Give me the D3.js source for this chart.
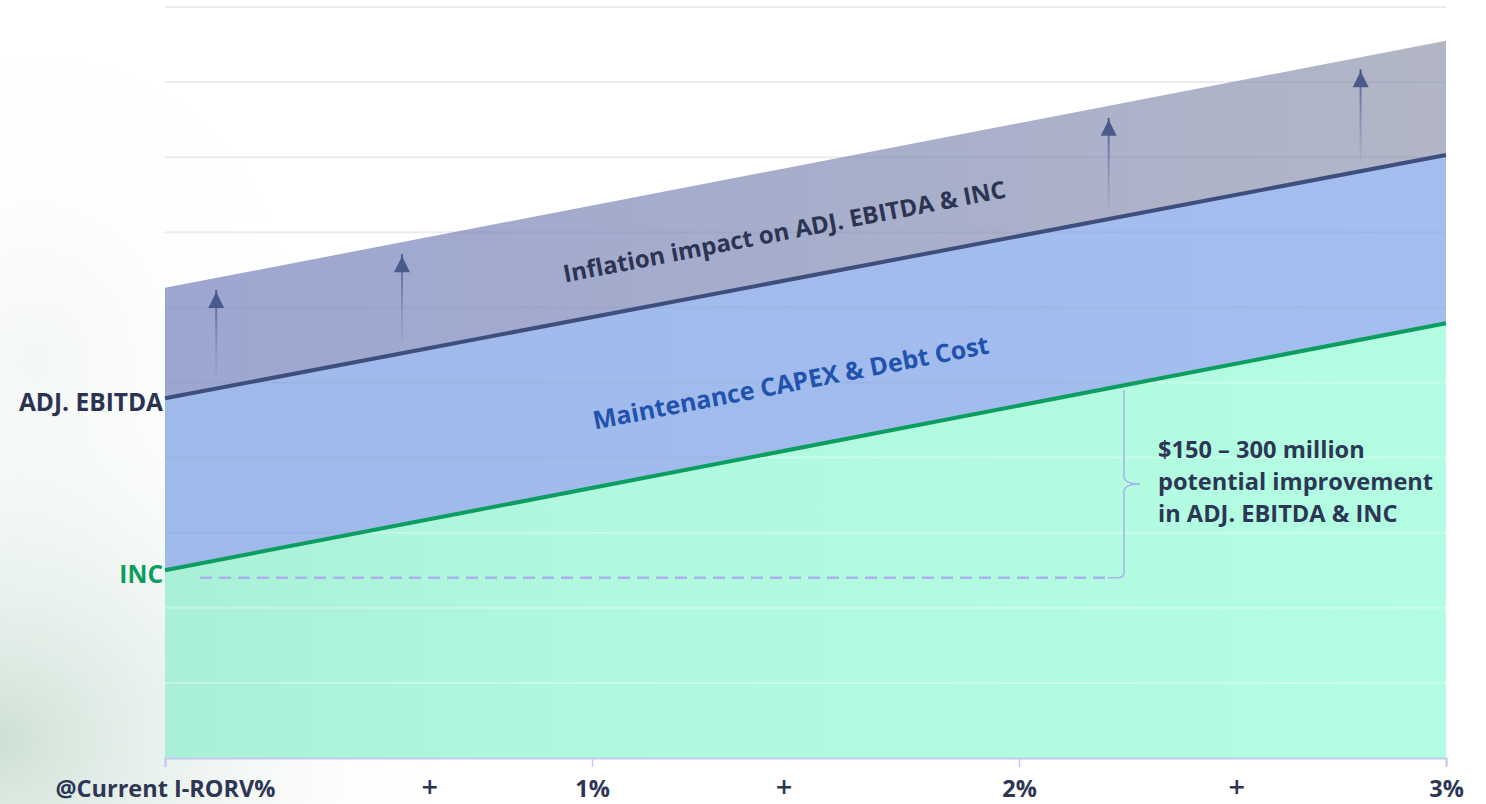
<!DOCTYPE html>
<html>
<head>
<meta charset="utf-8">
<script src="https://cdn.jsdelivr.net/npm/d3@7/dist/d3.min.js"></script>
<style>
  html, body { margin: 0; padding: 0; background: #ffffff; }
  svg { display: block; font-family: "Open Sans", "Noto Sans", sans-serif; }
</style>
</head>
<body>
<svg id="chart" width="1486" height="804"></svg>
<script>
// ---- data -------------------------------------------------------------
// x positions of the series end points (I-RORV % increase)
const seriesX = [0, 3];
// upper edge of the inflation band
const inflationTop = [6.26, 9.55];
// ADJ. EBITDA line
const adjEbitda = [4.79, 8.03];
// INC line
const inc = [2.50, 5.79];

// x axis ticks and labels
const tickValues = [0, 1, 2, 3];
const tickLabels = ["@Current I-RORV%", "1%", "2%", "3%"];
const plusValues = [0.62, 1.45, 2.51];
const plusLabels = ["+", "+", "+"];

// upward arrows inside the inflation band
const arrowX = [0.12, 0.555, 2.21, 2.8];

// current INC level (dashed reference) and its extent
const currentInc = 2.40;
const currentIncRange = [0.082, 2.208];
const braceX = 2.246;

const noteLines = ["$150 \u2013 300 million", "potential improvement", "in ADJ. EBITDA & INC"];

// ---- layout -----------------------------------------------------------
const svg = d3.select("#chart");
const W = 1486, H = 804;
const x = d3.scaleLinear().domain([0, 3]).range([165, 1446]);
const y = d3.scaleLinear().domain([0, 10]).range([758, 7]);

const lineAt = s => d3.scaleLinear().domain(seriesX).range(s);
const topF = lineAt(inflationTop), ebF = lineAt(adjEbitda), incF = lineAt(inc);

const defs = svg.append("defs");

// soft mist on the left side of the page
const haze = defs.append("radialGradient").attr("id", "haze")
  .attr("cx", 0.0).attr("cy", 0.92).attr("r", 0.5);
haze.append("stop").attr("offset", 0).attr("stop-color", "#9cc2ad").attr("stop-opacity", 0.5);
haze.append("stop").attr("offset", 0.5).attr("stop-color", "#c6ddd0").attr("stop-opacity", 0.25);
haze.append("stop").attr("offset", 1).attr("stop-color", "#ffffff").attr("stop-opacity", 0);
const haze2 = defs.append("radialGradient").attr("id", "haze2")
  .attr("cx", 0.05).attr("cy", 0.45).attr("r", 0.4);
haze2.append("stop").attr("offset", 0).attr("stop-color", "#dde9e2").attr("stop-opacity", 0.35);
haze2.append("stop").attr("offset", 1).attr("stop-color", "#ffffff").attr("stop-opacity", 0);

svg.append("rect").attr("width", W).attr("height", H).attr("fill", "#ffffff");
svg.append("rect").attr("width", 700).attr("height", H).attr("fill", "url(#haze2)");
svg.append("rect").attr("width", 900).attr("height", H).attr("fill", "url(#haze)");

// band gradients
const infGrad = defs.append("linearGradient").attr("id", "infGrad")
  .attr("gradientUnits", "userSpaceOnUse")
  .attr("x1", x(0)).attr("x2", x(3)).attr("y1", 0).attr("y2", 0);
infGrad.append("stop").attr("offset", 0).attr("stop-color", "#9ca6d1");
infGrad.append("stop").attr("offset", 1).attr("stop-color", "#b2b6c6");

const incGrad = defs.append("linearGradient").attr("id", "incGrad")
  .attr("gradientUnits", "userSpaceOnUse")
  .attr("x1", x(0)).attr("x2", x(3)).attr("y1", 0).attr("y2", 0);
incGrad.append("stop").attr("offset", 0).attr("stop-color", "#a9f0d7");
incGrad.append("stop").attr("offset", 0.35).attr("stop-color", "#b0f9df");
incGrad.append("stop").attr("offset", 1).attr("stop-color", "#b3fde2");

const mcGrad = defs.append("linearGradient").attr("id", "mcGrad")
  .attr("gradientUnits", "userSpaceOnUse")
  .attr("x1", x(0)).attr("x2", x(3)).attr("y1", 0).attr("y2", 0);
mcGrad.append("stop").attr("offset", 0).attr("stop-color", "#9fbaea");
mcGrad.append("stop").attr("offset", 1).attr("stop-color", "#a4bfef");

const shaftGrad = defs.append("linearGradient").attr("id", "shaftGrad")
  .attr("x1", 0).attr("x2", 0).attr("y1", 0).attr("y2", 1);
shaftGrad.append("stop").attr("offset", 0).attr("stop-color", "#4a5a8c").attr("stop-opacity", 1);
shaftGrad.append("stop").attr("offset", 1).attr("stop-color", "#7d8dc4").attr("stop-opacity", 0.2);

// background gridlines
const gridVals = y.ticks(10).filter(d => d > 0);
svg.append("g").selectAll("line").data(gridVals).join("line")
  .attr("x1", x(0)).attr("x2", x(3))
  .attr("y1", d => y(d)).attr("y2", d => y(d))
  .attr("stroke", "#ececee").attr("stroke-width", 2);

// areas
const pts = s => seriesX.map((v, i) => [v, s[i]]);
const band = (upper, lower) => d3.area()
  .x(d => x(d[0]))
  .y0((d, i) => y(lower ? lower[i] : 0))
  .y1((d, i) => y(upper[i]));

svg.append("path").datum(pts(inflationTop))
  .attr("d", band(inflationTop, adjEbitda)).attr("fill", "url(#infGrad)");
svg.append("path").datum(pts(adjEbitda))
  .attr("d", band(adjEbitda, inc)).attr("fill", "url(#mcGrad)");
svg.append("path").datum(pts(inc))
  .attr("d", band(inc, null)).attr("fill", "url(#incGrad)");

// gridlines seen through the bands
const clipUpper = defs.append("clipPath").attr("id", "clipUpper");
clipUpper.append("path").datum(pts(inflationTop)).attr("d", band(inflationTop, inc));
const clipLower = defs.append("clipPath").attr("id", "clipLower");
clipLower.append("path").datum(pts(inc)).attr("d", band(inc, null));

svg.append("g").attr("clip-path", "url(#clipUpper)")
  .selectAll("line").data(gridVals).join("line")
  .attr("x1", x(0)).attr("x2", x(3))
  .attr("y1", d => y(d)).attr("y2", d => y(d))
  .attr("stroke", "#5a6488").attr("stroke-opacity", 0.07).attr("stroke-width", 2);
svg.append("g").attr("clip-path", "url(#clipLower)")
  .selectAll("line").data(gridVals).join("line")
  .attr("x1", x(0)).attr("x2", x(3))
  .attr("y1", d => y(d)).attr("y2", d => y(d))
  .attr("stroke", "#ffffff").attr("stroke-opacity", 0.3).attr("stroke-width", 2);

// lines
const line = d3.line().x(d => x(d[0])).y(d => y(d[1]));
svg.append("path").datum(pts(adjEbitda)).attr("d", line)
  .attr("fill", "none").attr("stroke", "#3e4f7e").attr("stroke-width", 4);
svg.append("path").datum(pts(inc)).attr("d", line)
  .attr("fill", "none").attr("stroke", "#0c9d60").attr("stroke-width", 4);

// upward arrows
const arrows = svg.append("g").selectAll("g").data(arrowX).join("g");
arrows.append("rect")
  .attr("x", d => x(d) - 1)
  .attr("y", d => y(topF(d)) + 12)
  .attr("width", 2)
  .attr("height", d => y(ebF(d)) - y(topF(d)) - 24)
  .attr("fill", "url(#shaftGrad)");
arrows.append("path")
  .attr("d", d => {
    const tx = x(d), ty = y(topF(d)) + 14;
    return `M${tx},${ty} L${tx + 8},${ty + 16} L${tx - 8},${ty + 16} Z`;
  })
  .attr("fill", "#4a5a8a");

// dashed current-INC reference and brace
svg.append("line")
  .attr("x1", x(currentIncRange[0])).attr("x2", x(currentIncRange[1]))
  .attr("y1", y(currentInc)).attr("y2", y(currentInc))
  .attr("stroke", "#a9b3ee").attr("stroke-width", 2.5)
  .attr("stroke-dasharray", "12 7");

const bx = x(braceX);
const bTop = y(incF(braceX)) + 5;
const bBot = y(currentInc);
const bMid = (bTop + bBot) / 2;
svg.append("path")
  .attr("d", `M${x(currentIncRange[1])},${bBot} L${bx - 6},${bBot}
    Q${bx},${bBot} ${bx},${bBot - 6} L${bx},${bMid + 8}
    Q${bx},${bMid} ${bx + 16},${bMid} Q${bx},${bMid} ${bx},${bMid - 8}
    L${bx},${bTop}`)
  .attr("fill", "none").attr("stroke", "#a9b3ee").attr("stroke-width", 1.6);

svg.append("text")
  .attr("x", bx + 34).attr("y", 458)
  .attr("fill", "#2d3654").attr("font-size", 23.6).attr("font-weight", 700)
  .selectAll("tspan").data(noteLines).join("tspan")
  .attr("x", bx + 34).attr("dy", (d, i) => i === 0 ? 0 : 32)
  .text(d => d);

// rotated band labels
const angle = Math.atan2(y(topF(3)) - y(topF(0)), x(3) - x(0)) * 180 / Math.PI;
function bandLabel(xv, val, txt, color, size) {
  svg.append("text")
    .attr("transform", `translate(${x(xv)},${y(val)}) rotate(${angle})`)
    .attr("text-anchor", "middle").attr("dominant-baseline", "central")
    .attr("fill", color).attr("font-size", size).attr("font-weight", 700)
    .text(txt);
}
bandLabel(1.45, (topF(1.45) + ebF(1.45)) / 2 - 0.08, "Inflation impact on ADJ. EBITDA & INC", "#2b3452", 24);
bandLabel(1.465, ebF(1.465) - (ebF(1.465) - incF(1.465)) * 0.6, "Maintenance CAPEX & Debt Cost", "#2152ad", 25);

// left series labels
svg.append("text").attr("x", 163).attr("y", y(adjEbitda[0]) + 3)
  .attr("text-anchor", "end").attr("dominant-baseline", "central")
  .attr("fill", "#2a3352").attr("font-size", 24.5).attr("font-weight", 700)
  .text("ADJ. EBITDA");
svg.append("text").attr("x", 163).attr("y", y(inc[0]) + 3)
  .attr("text-anchor", "end").attr("dominant-baseline", "central")
  .attr("fill", "#0c9d60").attr("font-size", 24.5).attr("font-weight", 700)
  .text("INC");

// x axis
const axis = d3.axisBottom(x).tickValues(tickValues)
  .tickFormat((d, i) => tickLabels[i]).tickSize(9).tickPadding(13);
const gx = svg.append("g").attr("transform", `translate(0,${y(0)})`).call(axis);
gx.select(".domain").attr("stroke", "#c3c9f1").attr("stroke-width", 2);
gx.selectAll(".tick line").attr("stroke", "#c3c9f1").attr("stroke-width", 1.5);
gx.selectAll(".tick text")
  .attr("fill", "#2d3654").attr("font-size", 23.5).attr("font-weight", 700)
  .attr("font-family", "\"Open Sans\", sans-serif");

svg.append("g").selectAll("text").data(plusValues).join("text")
  .attr("x", d => x(d)).attr("y", 797)
  .attr("text-anchor", "middle")
  .attr("fill", "#2d3654").attr("font-size", 29).attr("font-weight", 600)
  .text((d, i) => plusLabels[i]);
</script>
</body>
</html>
